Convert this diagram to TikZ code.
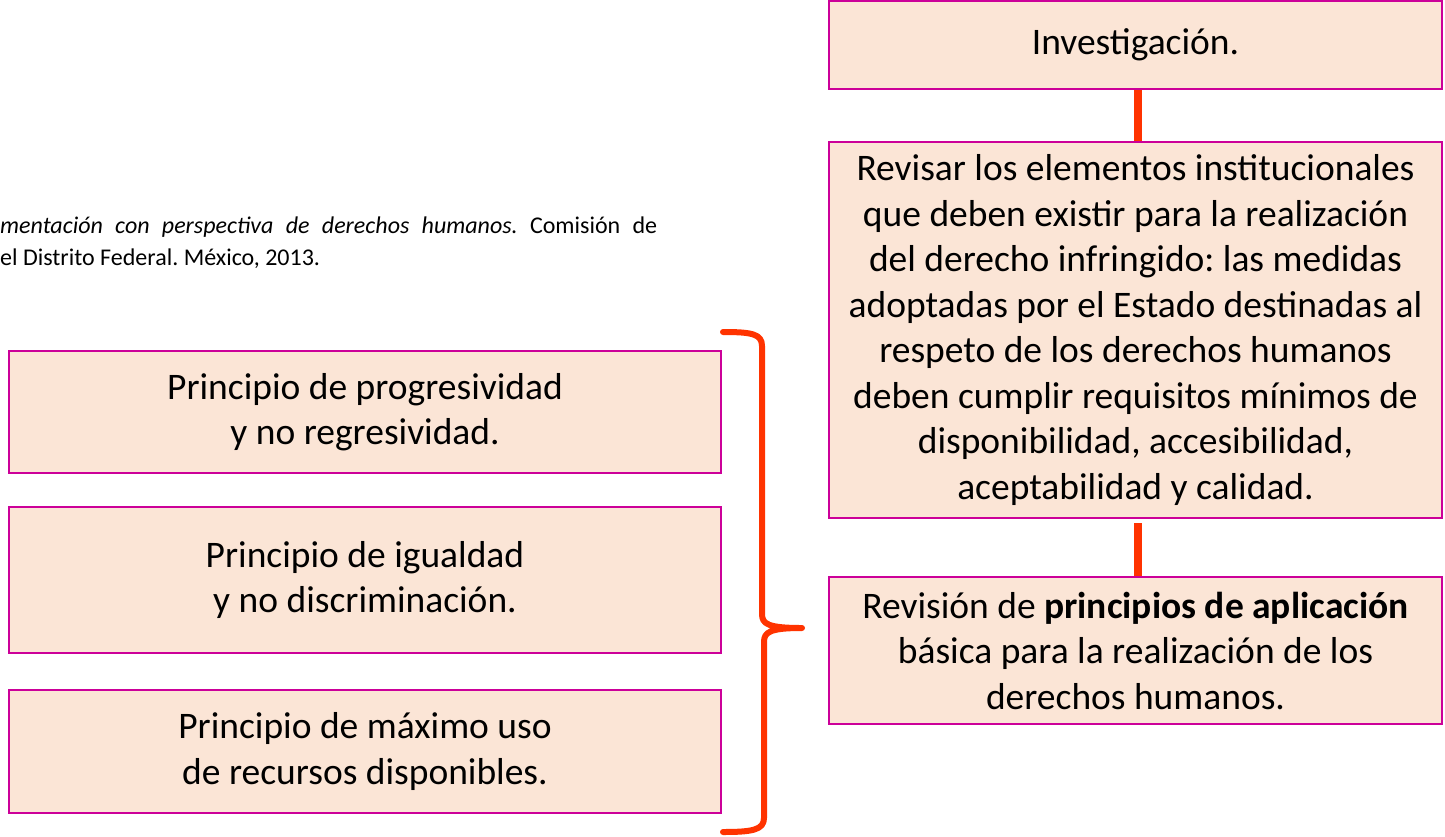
\documentclass[tikz,border=0pt]{standalone}
\usepackage{fontspec}
\setmainfont{Carlito}
\frenchspacing
\definecolor{boxfill}{HTML}{FBE5D6}
\definecolor{boxline}{HTML}{CC0099}
\definecolor{linkred}{HTML}{FF3300}
\tikzset{
  stepbox/.style={draw=boxline, fill=boxfill, line width=2pt, align=center,
    inner sep=0pt, font=\fontsize{37.5}{45.5}\selectfont},
  link/.style={draw=linkred, line width=8pt},
}
\begin{document}
\begin{tikzpicture}[x=1pt,y=-1pt]
    \useasboundingbox (0,0) rectangle (1445,836);
    \node[anchor=base west, inner sep=0pt, font=\fontsize{24}{32}\selectfont] (ref1) at (0,233) {\makebox[657pt][s]{\textit{mentación con perspectiva de derechos humanos.} Comisión de}};
    \node[anchor=base west, inner sep=0pt, font=\fontsize{24}{32}\selectfont] (ref2) at (0,265) {el Distrito Federal. México, 2013.};
    \node[stepbox, minimum width=613pt, minimum height=88pt] (inv) at (1135.5,45) {Investigación.};
    \node[stepbox, minimum width=613pt, minimum height=376pt] (rev) at (1135.5,330) {Revisar los elementos institucionales\\que deben existir para la realización\\del derecho infringido: las medidas\\adoptadas por el Estado destinadas al\\respeto de los derechos humanos\\deben cumplir requisitos mínimos de\\disponibilidad, accesibilidad,\\aceptabilidad y calidad.};
    \node[stepbox, minimum width=613pt, minimum height=147pt] (pri) at (1135.5,650.5) {Revisión de \textbf{principios de aplicación}\\básica para la realización de los\\derechos humanos.};
    \node[stepbox, minimum width=712pt, minimum height=122pt] (p1) at (365,412) {Principio de progresividad\\y no regresividad.};
    \node[stepbox, minimum width=712pt, minimum height=146pt] (p2) at (365,580) {Principio de igualdad\\y no discriminación.};
    \node[stepbox, minimum width=712pt, minimum height=123pt] (p3) at (365,751.5) {Principio de máximo uso\\de recursos disponibles.};
    \draw[link] ([xshift=2.5pt]inv.south) -- ([xshift=2.5pt]rev.north);
    \draw[link, shorten <=4pt] ([xshift=2.5pt]rev.south) -- ([xshift=2.5pt]pri.north);
    % brace
    \coordinate (b1) at (723,332);
    \coordinate (b2) at (802,628);
    \coordinate (b3) at (723,832);
    \draw[linkred, line width=6pt, line cap=round, line join=round]
      (b1) .. controls (752,332) and (762,334) .. (762,346) -- (762,614)
      .. controls (762,624) and (768,628) .. (b2)
      .. controls (770,628) and (764,632) .. (764,642) -- (764,818)
      .. controls (764,830) and (752,832) .. (b3);
  \end{tikzpicture}
\end{document}
